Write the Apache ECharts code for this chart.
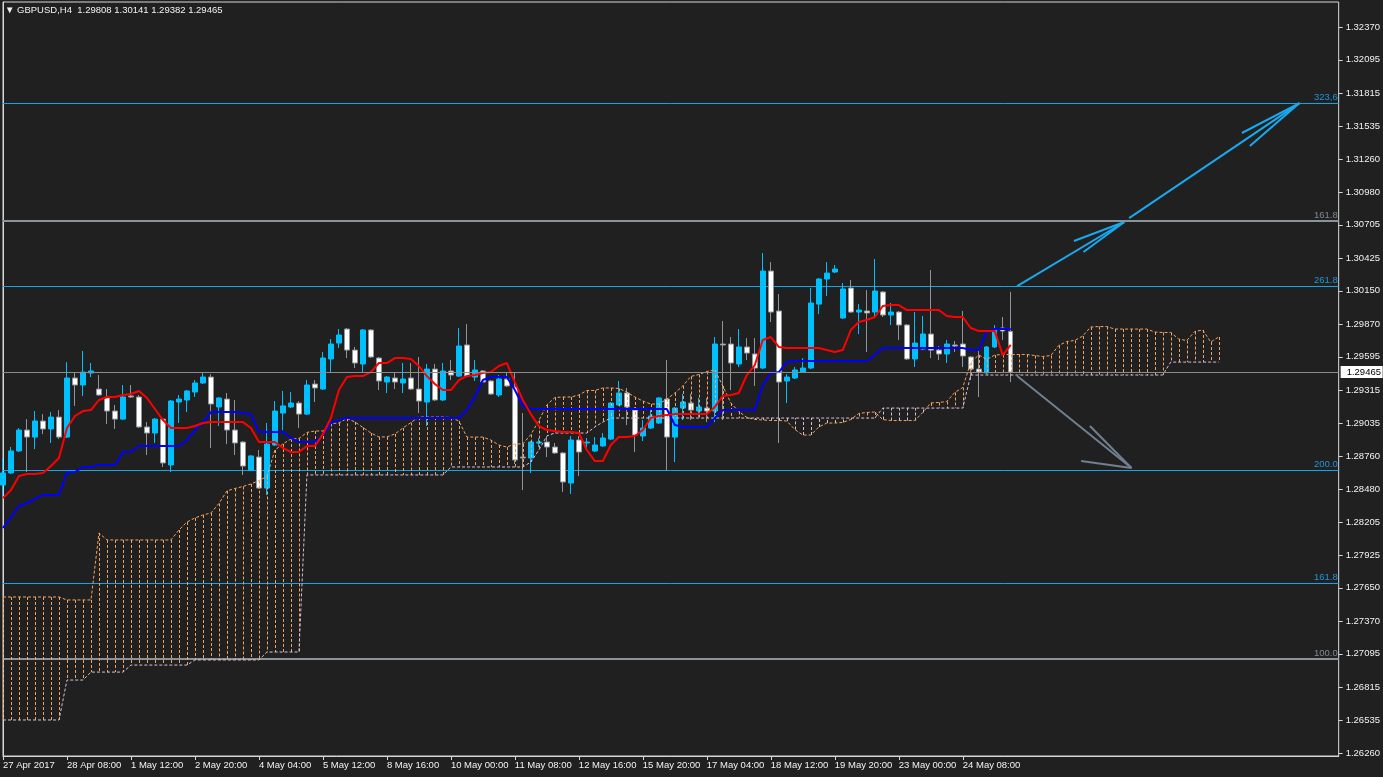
<!DOCTYPE html>
<html><head><meta charset="utf-8">
<script src="https://cdn.jsdelivr.net/npm/echarts@6/dist/echarts.min.js"></script>
<style>html,body{margin:0;padding:0;background:#202020;}#c{width:1383px;height:777px;}</style>
</head><body><div id="c"></div>
<script>
// ---------- DATA ----------
const symbolTitle = '▼ GBPUSD,H4  1.29808 1.30141 1.29382 1.29465';
const xTickLabels = ['27 Apr 2017','28 Apr 08:00','1 May 12:00','2 May 20:00','4 May 04:00','5 May 12:00','8 May 16:00','10 May 00:00','11 May 08:00','12 May 16:00','15 May 20:00','17 May 04:00','18 May 12:00','19 May 20:00','23 May 00:00','24 May 08:00'];
const yTickLabels = [1.26260,1.26535,1.26815,1.27095,1.27370,1.27650,1.27925,1.28205,1.28480,1.28760,1.29035,1.29315,1.29595,1.29870,1.30150,1.30425,1.30705,1.30980,1.31260,1.31535,1.31815,1.32095,1.32370];
const opens = [1.28515,1.28617,1.28802,1.28978,1.28919,1.29054,1.28987,1.29087,1.28919,1.29416,
1.29357,1.29458,1.29323,1.29248,1.29138,1.29070,1.29265,1.29256,1.29004,1.28953,
1.29070,1.28684,1.29214,1.29231,1.29298,1.29374,1.29424,1.29172,1.29239,1.28978,
1.28877,1.28642,1.28751,1.28490,1.28852,1.29121,1.29172,1.29205,1.29112,1.29365,
1.29323,1.29576,1.29710,1.29828,1.29651,1.29534,1.29820,1.29584,1.29382,1.29416,
1.29374,1.29416,1.29323,1.29214,1.29491,1.29231,1.29475,1.29432,1.29694,1.29424,
1.29475,1.29391,1.29273,1.29407,1.29340,1.28751,1.28743,1.28869,1.28877,1.28835,
1.28785,1.28532,1.28894,1.28869,1.28802,1.28844,1.28902,1.29189,1.29290,1.29146,
1.28928,1.28995,1.29037,1.29239,1.28919,1.29163,1.29205,1.29138,1.29163,1.29138,
1.29702,1.29702,1.29534,1.29677,1.29618,1.29500,1.30316,1.29980,1.29391,1.29416,
1.29466,1.29500,1.30038,1.30249,1.30308,1.29921,1.30173,1.29971,1.29980,1.29971,
1.30140,1.29946,1.29971,1.29862,1.29576,1.29660,1.29786,1.29651,1.29618,1.29694,
1.29702,1.29593,1.29491,1.29458,1.29677,1.29837,1.29808];
const highs = [1.28743,1.28835,1.28995,1.29070,1.29138,1.29112,1.29129,1.29146,1.29550,1.29458,
1.29643,1.29542,1.29441,1.29323,1.29189,1.29357,1.29357,1.29273,1.29045,1.29079,
1.29079,1.29231,1.29273,1.29315,1.29399,1.29458,1.29449,1.29256,1.29290,1.29231,
1.28886,1.28768,1.28810,1.29037,1.29222,1.29307,1.29298,1.29222,1.29399,1.29399,
1.29635,1.29744,1.29828,1.29837,1.29677,1.29828,1.29828,1.29593,1.29432,1.29458,
1.29542,1.29542,1.29593,1.29534,1.29534,1.29542,1.29567,1.29837,1.29870,1.29567,
1.29483,1.29399,1.29441,1.29458,1.29466,1.29121,1.28886,1.28911,1.28919,1.28869,
1.28793,1.28928,1.28928,1.28911,1.28919,1.28953,1.29214,1.29391,1.29332,1.29172,
1.29062,1.29163,1.29256,1.29567,1.29172,1.29281,1.29281,1.29248,1.29248,1.29761,
1.29895,1.29761,1.29828,1.29752,1.29752,1.30468,1.30392,1.30123,1.29449,1.29508,
1.29584,1.30173,1.30257,1.30392,1.30367,1.30215,1.30241,1.30038,1.30156,1.30417,
1.30148,1.30047,1.29980,1.29870,1.29971,1.29938,1.30325,1.29685,1.29736,1.29727,
1.29980,1.29601,1.29651,1.29685,1.29862,1.29929,1.30141];
const lows = [1.28414,1.28608,1.28793,1.28625,1.28818,1.28944,1.28869,1.28902,1.28911,1.29181,
1.29265,1.29424,1.29265,1.29028,1.28987,1.29062,1.29248,1.28995,1.28768,1.28869,
1.28667,1.28625,1.29037,1.29129,1.29256,1.29365,1.28827,1.29012,1.28860,1.28768,
1.28600,1.28633,1.28482,1.28431,1.28844,1.28978,1.29163,1.28995,1.29104,1.29214,
1.29315,1.29458,1.29668,1.29584,1.29500,1.29466,1.29584,1.29315,1.29290,1.29323,
1.29290,1.29315,1.29121,1.29012,1.29222,1.29222,1.29399,1.29424,1.29424,1.29391,
1.29374,1.29273,1.29256,1.29340,1.28692,1.28473,1.28617,1.28835,1.28751,1.28776,
1.28457,1.28440,1.28591,1.28827,1.28793,1.28835,1.28894,1.29181,1.29020,1.28793,
1.28886,1.28987,1.29028,1.28642,1.28709,1.29062,1.29062,1.29087,1.29045,1.29045,
1.29062,1.29315,1.29508,1.29567,1.29349,1.29491,1.29887,1.28869,1.29205,1.29407,
1.29458,1.29491,1.29954,1.30106,1.30299,1.29912,1.29963,1.29786,1.29635,1.29929,
1.29929,1.29862,1.29736,1.29567,1.29508,1.29651,1.29584,1.29567,1.29542,1.29635,
1.29508,1.29399,1.29256,1.29449,1.29668,1.29736,1.29382];
const closes = [1.28617,1.28802,1.28978,1.28919,1.29054,1.28987,1.29087,1.28919,1.29416,1.29357,
1.29466,1.29475,1.29273,1.29138,1.29070,1.29256,1.29256,1.29004,1.28953,1.29070,
1.28701,1.29222,1.29239,1.29307,1.29374,1.29424,1.29197,1.29248,1.28978,1.28869,
1.28675,1.28760,1.28490,1.28860,1.29138,1.29181,1.29205,1.29112,1.29357,1.29332,
1.29584,1.29702,1.29778,1.29651,1.29542,1.29820,1.29593,1.29391,1.29424,1.29382,
1.29407,1.29323,1.29222,1.29491,1.29231,1.29475,1.29441,1.29685,1.29432,1.29483,
1.29382,1.29281,1.29407,1.29349,1.28726,1.28743,1.28877,1.28877,1.28835,1.28785,
1.28541,1.28894,1.28793,1.28877,1.28852,1.28911,1.29205,1.29290,1.29172,1.28936,
1.28995,1.29096,1.29248,1.28919,1.29163,1.29214,1.29146,1.29172,1.29138,1.29702,
1.29694,1.29542,1.29677,1.29626,1.29500,1.30316,1.29971,1.29382,1.29424,1.29483,
1.29500,1.30047,1.30249,1.30299,1.30333,1.30165,1.29971,1.29988,1.29963,1.30148,
1.29946,1.29971,1.29862,1.29576,1.29710,1.29786,1.29651,1.29618,1.29702,1.29685,
1.29601,1.29491,1.29466,1.29677,1.29820,1.29811,1.29465];
const tenkan = [1.28406,1.28473,1.28592,1.28608,1.28608,1.28617,1.28675,1.28743,1.28995,1.29096,
1.29138,1.29146,1.29231,1.29256,1.29256,1.29273,1.29281,1.29307,1.29248,1.29155,
1.29062,1.28995,1.28995,1.28995,1.29012,1.29037,1.29045,1.29045,1.29045,1.29045,
1.29045,1.28995,1.28877,1.28877,1.28877,1.28827,1.28793,1.28793,1.28844,1.28844,
1.28944,1.29079,1.29315,1.29424,1.29432,1.29432,1.29466,1.29542,1.29542,1.29584,
1.29584,1.29576,1.29517,1.29432,1.29365,1.29315,1.29315,1.29399,1.29432,1.29441,
1.29458,1.29466,1.29517,1.29542,1.29382,1.29231,1.29112,1.29012,1.28978,1.28970,
1.28961,1.28961,1.28953,1.28810,1.28717,1.28717,1.28852,1.28919,1.28919,1.28928,
1.28978,1.29079,1.29096,1.29104,1.29112,1.29112,1.29112,1.29112,1.29112,1.29172,
1.29265,1.29273,1.29290,1.29441,1.29525,1.29736,1.29761,1.29677,1.29668,1.29668,
1.29668,1.29668,1.29668,1.29651,1.29635,1.29651,1.29820,1.29887,1.29904,1.29929,
1.30022,1.30030,1.30030,1.29988,1.29988,1.29988,1.29988,1.29988,1.29938,1.29929,
1.29929,1.29837,1.29811,1.29811,1.29811,1.29609,1.29694];
const kijun = [1.28154,1.28246,1.28339,1.28364,1.28398,1.28431,1.28431,1.28431,1.28625,1.28625,
1.28667,1.28667,1.28684,1.28684,1.28684,1.28793,1.28793,1.28844,1.28844,1.28844,
1.28844,1.28844,1.28844,1.28894,1.28978,1.29045,1.29129,1.29129,1.29129,1.29129,
1.29121,1.29112,1.28961,1.28961,1.28961,1.28961,1.28911,1.28877,1.28877,1.28877,
1.28936,1.29037,1.29062,1.29079,1.29079,1.29079,1.29079,1.29079,1.29079,1.29079,
1.29079,1.29079,1.29079,1.29079,1.29079,1.29079,1.29079,1.29079,1.29146,1.29256,
1.29399,1.29424,1.29424,1.29424,1.29315,1.29180,1.29155,1.29155,1.29155,1.29155,
1.29155,1.29155,1.29155,1.29155,1.29155,1.29155,1.29155,1.29155,1.29155,1.29155,
1.29155,1.29155,1.29155,1.29155,1.29020,1.29004,1.29004,1.29004,1.29004,1.29079,
1.29146,1.29146,1.29146,1.29146,1.29146,1.29357,1.29458,1.29466,1.29550,1.29559,
1.29559,1.29559,1.29559,1.29559,1.29559,1.29559,1.29559,1.29559,1.29559,1.29609,
1.29668,1.29668,1.29668,1.29668,1.29668,1.29668,1.29668,1.29668,1.29668,1.29668,
1.29668,1.29651,1.29651,1.29803,1.29828,1.29828,1.29828];
const senkouA = [1.27573,1.27573,1.27573,1.27573,1.27573,1.27573,1.27573,1.27573,1.27548,1.27548,
1.27548,1.27548,1.28112,1.28053,1.28053,1.28053,1.28053,1.28053,1.28053,1.28053,
1.28053,1.28053,1.28137,1.28204,1.28238,1.28263,
1.28280,1.28360,1.28466,1.28486,1.28503,1.28524,1.28553,1.28587,1.28810,1.28861,
1.28903,1.28907,1.28958,1.28970,1.28970,1.29033,1.29037,1.29076,1.29046,1.29000,
1.28953,1.28920,1.28920,1.28945,1.28995,1.29041,1.29087,1.29087,1.29087,1.29087,
1.29083,1.29054,1.28919,1.28919,1.28919,1.28894,1.28852,1.28835,1.28861,1.28861,
1.28940,1.29058,1.29189,1.29252,1.29256,1.29256,1.29273,1.29311,1.29311,1.29332,
1.29332,1.29328,1.29298,1.29256,1.29222,1.29197,1.29197,1.29239,1.29289,1.29349,
1.29429,1.29445,1.29471,1.29483,1.29349,1.29206,1.29134,1.29084,1.29067,1.29063,
1.29058,1.29058,1.29054,1.28983,1.28936,1.28936,1.29004,1.29037,1.29037,1.29042,
1.29067,1.29117,1.29126,1.29130,1.29066,1.29058,1.29058,1.29058,1.29058,1.29126,
1.29206,1.29210,1.29218,1.29294,1.29336,1.29547,1.29610,1.29572,1.29609,1.29614,
1.29614,1.29614,1.29614,1.29605,1.29597,1.29605,1.29690,1.29723,1.29732,1.29769,
1.29845,1.29849,1.29849,1.29828,1.29828,1.29828,1.29828,1.29828,1.29803,1.29799,
1.29799,1.29744,1.29731,1.29807,1.29820,1.29719,1.29761];
const senkouB = [1.26538,1.26538,1.26538,1.26538,1.26538,1.26538,1.26538,1.26538,1.26874,1.26874,
1.26874,1.26941,1.26941,1.26941,1.26941,1.26941,1.27000,1.27000,1.27000,1.27000,
1.27000,1.27000,1.27000,1.27000,1.27043,1.27043,1.27043,1.27043,1.27043,1.27043,
1.27043,1.27043,1.27043,1.27110,1.27110,1.27110,1.27110,1.27110,1.28600,1.28600,
1.28600,1.28600,1.28600,1.28600,1.28600,1.28600,1.28600,1.28600,1.28600,1.28600,
1.28600,1.28600,1.28600,1.28600,1.28600,1.28600,1.28667,1.28667,1.28667,1.28667,
1.28667,1.28667,1.28667,1.28667,1.28667,1.28667,1.28709,1.28810,1.28928,1.28953,
1.28953,1.28953,1.28953,1.28953,1.29004,1.29045,1.29079,1.29079,1.29079,1.29079,
1.29079,1.29079,1.29079,1.29079,1.29079,1.29079,1.29079,1.29079,1.29079,1.29079,
1.29079,1.29079,1.29079,1.29079,1.29079,1.29079,1.29079,1.29079,1.29079,1.29079,
1.29079,1.29079,1.29079,1.29079,1.29079,1.29079,1.29079,1.29079,1.29079,1.29079,
1.29163,1.29163,1.29163,1.29163,1.29163,1.29163,1.29163,1.29163,1.29163,1.29163,
1.29163,1.29441,1.29441,1.29441,1.29441,1.29441,1.29441,1.29441,1.29441,1.29441,
1.29441,1.29441,1.29441,1.29441,1.29441,1.29441,1.29441,1.29441,1.29441,1.29441,
1.29441,1.29441,1.29441,1.29441,1.29441,1.29441,1.29550,1.29550,1.29550,1.29550,
1.29550,1.29550,1.29550];
const levelValues = [1.31728,1.30740,1.30190,1.28642,1.27691,1.27051];
const levelLabels = ['323,6','161.8','261.8','200.0','161.8','100.0'];
const lastClose = 1.29465;
// trend-line drawings: [barIndex1, price1, barIndex2, price2]
const blueArrowSegments = [[126.8,1.30190,140.2,1.30729],[133.9,1.30569,140.2,1.30729],[135.1,1.30476,140.2,1.30729],
  [140.8,1.30762,162.1,1.31730],[154.9,1.31478,162.1,1.31730],[155.9,1.31368,162.1,1.31730]];
const grayArrowSegments = [[126.8,1.29433,141.1,1.28658],[135.9,1.29012,141.1,1.28658],[134.8,1.28717,141.1,1.28658]];

// ---------- CHART ----------
const SLOTS = 168;
const cats = Array.from({length: SLOTS}, (_, i) => String(i));
const candles = opens.map((o, i) => [o, closes[i], lows[i], highs[i]]);
const cloud = senkouA.map((a, i) => [i, a, senkouB[i]]);
const levels = levelValues.map((v, k) => [k, v]);
const yTicks = yTickLabels.map((v) => [SLOTS - 1, v]);
const yMin = 1.262348, yMax = 1.325804;
const FONT = 'Liberation Sans, DejaVu Sans, sans-serif';
const TXT = '#f2f2f2';
const FRAME = '#d8d8d8';
const grayLevelIdx = [1, 5];
const tickShown = (idx) => idx % 8 === 0 && idx / 8 < xTickLabels.length;

function segRenderer(color, width) {
  return function (params, api) {
    const a = api.coord([api.value(0), api.value(1)]);
    const b = api.coord([api.value(2), api.value(3)]);
    return {type: 'line', shape: {x1: a[0], y1: a[1], x2: b[0], y2: b[1]},
      style: {stroke: color, lineWidth: width}};
  };
}

const chart = echarts.init(document.getElementById('c'), null, {renderer: 'canvas'});
chart.setOption({
  backgroundColor: '#202020',
  animation: false,
  title: {text: symbolTitle, left: 0, top: 0,
    textStyle: {color: TXT, fontSize: 9.5, fontWeight: 'normal', fontFamily: FONT}},
  grid: {left: 3, right: 44, top: 2, bottom: 21, show: true, borderColor: FRAME, borderWidth: 1, backgroundColor: 'transparent'},
  xAxis: [
    {type: 'category', data: cats, boundaryGap: false,
      axisLine: {show: true, lineStyle: {color: FRAME}},
      axisTick: {show: true, length: 4, interval: (i) => tickShown(i), lineStyle: {color: FRAME}},
      axisLabel: {interval: (i) => tickShown(i), formatter: (v, i) => xTickLabels[i / 8] || '',
        align: 'left', color: TXT, fontSize: 9.5, fontFamily: FONT, margin: 4},
      splitLine: {show: false}},
    {type: 'value', min: 0, max: SLOTS - 1, show: false, splitLine: {show: false}}
  ],
  yAxis: [
    {type: 'value', position: 'right', min: yMin, max: yMax,
      axisLine: {show: true, lineStyle: {color: FRAME}},
      axisTick: {show: false},
      minorTick: {show: false},
      axisLabel: {customValues: yTickLabels, formatter: (v) => v.toFixed(5), color: TXT, fontSize: 9.5, fontFamily: FONT, margin: 7},
      splitLine: {show: false}}
  ],
  series: [
    {type: 'custom', name: 'y ticks', xAxisIndex: 1, yAxisIndex: 0, data: yTicks, z: 6, silent: true, clip: false,
      encode: {x: 0, y: 1},
      renderItem: function (params, api) {
        const p = api.coord([api.value(0), api.value(1)]);
        const y = Math.round(p[1]) + 0.5;
        return {type: 'line', shape: {x1: p[0], y1: y, x2: p[0] + 4, y2: y}, style: {stroke: FRAME, lineWidth: 1}};
      }},
    {type: 'custom', name: 'levels', xAxisIndex: 1, yAxisIndex: 0, data: levels, z: 1, silent: true, clip: false,
      encode: {x: 0, y: 1},
      renderItem: function (params, api) {
        const k = api.value(0);
        const v = api.value(1);
        const gray = grayLevelIdx.includes(k);
        const left = api.coord([0, v]);
        const right = api.coord([SLOTS - 1, v]);
        const w = gray ? 2 : 1;
        const y = gray ? Math.round(left[1]) : Math.round(left[1]) + 0.5;
        return {type: 'group', children: [
          {type: 'line', shape: {x1: left[0], y1: y, x2: right[0], y2: y},
            style: {stroke: gray ? '#8A939C' : '#12A6E6', lineWidth: w}},
          {type: 'text', style: {text: levelLabels[k], x: right[0] - 1, y: y - (gray ? 1 : 1.5), align: 'right', verticalAlign: 'bottom',
            fill: gray ? '#7E8A96' : '#1E96DC', fontSize: 9.5, fontFamily: FONT}}
        ]};
      }},
    {type: 'custom', name: 'price', xAxisIndex: 1, yAxisIndex: 0, data: [[SLOTS - 1, lastClose]], z: 6, silent: true, clip: false,
      encode: {x: 0, y: 1},
      renderItem: function (params, api) {
        const p = api.coord([api.value(0), api.value(1)]);
        const y = Math.round(p[1]) + 0.5;
        const lx = api.coord([0, api.value(1)])[0];
        return {type: 'group', children: [
          {type: 'line', shape: {x1: lx, y1: y, x2: p[0], y2: y}, style: {stroke: '#8C8C8C', lineWidth: 1}},
          {type: 'rect', shape: {x: p[0] + 2, y: y - 6.5, width: 42, height: 12}, style: {fill: '#ffffff'}},
          {type: 'text', style: {text: api.value(1).toFixed(5), x: p[0] + 8, y: y, verticalAlign: 'middle', align: 'left',
            fill: '#000000', fontSize: 9.5, fontFamily: FONT}}
        ]};
      }},
    {type: 'candlestick', name: 'GBPUSD', xAxisIndex: 0, yAxisIndex: 0, data: candles, barWidth: 5, z: 2, silent: true,
      itemStyle: {color: '#00BFFF', color0: '#FFFFFF', borderColor: '#00BFFF', borderColor0: '#8E959C', borderWidth: 1,
        borderColorDoji: '#8E959C'}},
    {type: 'custom', name: 'cloud', xAxisIndex: 1, yAxisIndex: 0, data: cloud, z: 3, silent: true, clip: true,
      encode: {x: 0, y: [1, 2]},
      renderItem: function (params, api) {
        const a = api.coord([api.value(0), api.value(1)]);
        const b = api.coord([api.value(0), api.value(2)]);
        const x = Math.round(a[0]) + 0.5;
        return {type: 'line', shape: {x1: x, y1: a[1], x2: x, y2: b[1]},
          style: {stroke: api.value(1) >= api.value(2) ? '#F4A460' : '#D8BFD8', lineWidth: 1, lineDash: [3, 2]}};
      }},
    {type: 'line', name: 'Senkou A', xAxisIndex: 0, yAxisIndex: 0, data: senkouA, showSymbol: false, z: 3, silent: true,
      lineStyle: {color: '#F4A460', width: 1, type: [3, 2]}},
    {type: 'line', name: 'Senkou B', xAxisIndex: 0, yAxisIndex: 0, data: senkouB, showSymbol: false, z: 3, silent: true,
      lineStyle: {color: '#D8BFD8', width: 1, type: [3, 2]}},
    {type: 'line', name: 'Kijun', xAxisIndex: 0, yAxisIndex: 0, data: kijun, showSymbol: false, z: 4, silent: true,
      lineStyle: {color: '#0000FF', width: 2}},
    {type: 'line', name: 'Tenkan', xAxisIndex: 0, yAxisIndex: 0, data: tenkan, showSymbol: false, z: 4, silent: true,
      lineStyle: {color: '#FF0000', width: 2}},
    {type: 'custom', name: 'up arrows', xAxisIndex: 1, yAxisIndex: 0, data: blueArrowSegments, z: 5, silent: true, clip: true,
      encode: {x: [0, 2], y: [1, 3]}, renderItem: segRenderer('#1AA8EE', 2)},
    {type: 'custom', name: 'down arrow', xAxisIndex: 1, yAxisIndex: 0, data: grayArrowSegments, z: 5, silent: true, clip: true,
      encode: {x: [0, 2], y: [1, 3]}, renderItem: segRenderer('#6F8091', 2)}
  ]
});
</script></body></html>
